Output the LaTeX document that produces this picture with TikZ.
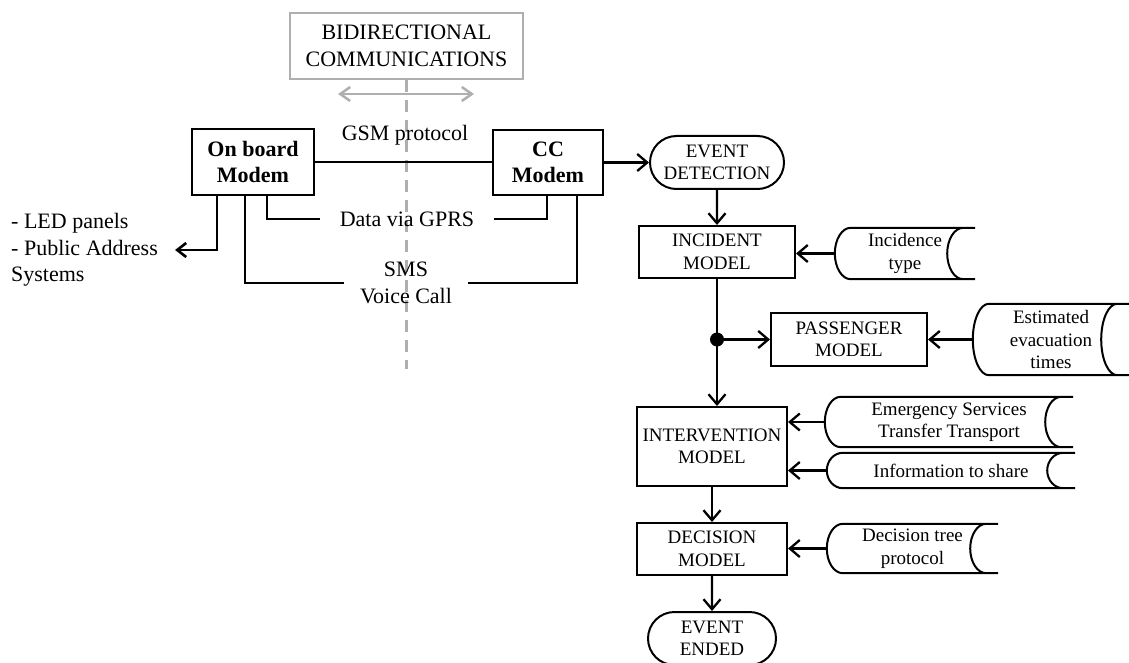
\documentclass[tikz,border=0pt]{standalone}
\usepackage{fontspec}
\setmainfont{Liberation Serif}
\usetikzlibrary{arrows.meta,shapes.misc,calc}
\definecolor{lightgr}{RGB}{175,175,175}
\begin{document}
\begin{tikzpicture}[x=1pt,y=1pt,
  big/.style={font=\fontsize{22}{26.5}\selectfont, align=center},
  small/.style={font=\fontsize{19}{22.5}\selectfont, align=center},
  box/.style={small, draw, line width=2pt, inner sep=0pt},
  modem/.style={align=center, font=\fontsize{22}{26.5}\selectfont\bfseries, draw, line width=2pt, inner sep=0pt},
  term/.style={small, draw, rounded rectangle, line width=2pt, inner sep=0pt},
  store/.style={small, inner sep=0pt},
  link/.style={line width=2.6pt},
  arr/.style={line width=2.3pt, -{Straight Barb[length=10pt,width=17pt]}}
]
\useasboundingbox (0,0) rectangle (1129,-663);

\node[big, draw=lightgr, line width=2pt, minimum width=233pt, minimum height=66pt] (bidir) at (406.5,-46) {BIDIRECTIONAL\\COMMUNICATIONS};
\coordinate (bl) at (338,-94);
\coordinate (br) at (474,-94);
\draw[lightgr, line width=2.5pt, {Straight Barb[length=10pt,width=14pt]}-{Straight Barb[length=10pt,width=14pt]}] (bl) -- (br);
\coordinate (dashend) at (406.5,-369);
\draw[lightgr, dash pattern=on 12pt off 8pt, line width=2.2pt] (bidir.south) -- (dashend);

\node[modem, minimum width=122pt, minimum height=66pt] (onboard) at (253,-162) {On board\\Modem};
\node[modem, minimum width=110pt, minimum height=65pt] (cc) at (548,-162.5) {CC\\Modem};
\node[big] (gsm) at (405,-135) {GSM protocol};
\node[big, inner xsep=20pt] (gprs) at (407,-219) {Data via GPRS};
\node[big, inner xsep=16pt] (sms) at (406,-283) {SMS\\Voice Call};
\node[big, align=left, anchor=west, inner sep=0pt] (leds) at (11,-250) {- LED panels\\- Public Address\\Systems};

\draw[link] (onboard.east) -- (onboard.east -| cc.west);
\draw[link] ([xshift=14pt]onboard.south) |- (gprs.west);
\draw[link] (gprs.east) -| ([xshift=-1pt]cc.south);
\draw[link] ([xshift=-8pt]onboard.south) |- (sms.west);
\draw[link] (sms.east) -| ([xshift=29pt]cc.south);
\draw[link, -{Straight Barb[length=9pt,width=14pt]}] ([xshift=-36pt]onboard.south) |- ([xshift=17pt]leds.east);

\node[term, minimum width=134pt, minimum height=53pt] (det) at (717,-162.5) {EVENT\\DETECTION};
\draw[arr] (cc) -- (det);
\node[box, minimum width=156pt, minimum height=52pt] (inc) at (717,-252) {INCIDENT\\MODEL};
\draw[arr] (det) -- (inc);
\node[store, minimum width=140pt, minimum height=51pt] (inctype) at (905,-253.5) {Incidence\\type};
\draw[arr] (inctype.west) -- (inctype.west -| inc.east);
\node[box, minimum width=156pt, minimum height=53pt] (pass) at (849,-339.5) {PASSENGER\\MODEL};
\coordinate (dot) at (inc.south |- pass.west);
\fill (dot) circle (7pt);
\draw[arr] (dot) -- (pass.west);
\node[store, minimum width=156pt, minimum height=71pt] (est) at (1051,-339.5) {Estimated\\evacuation\\times};
\draw[arr] (est.west) -- (pass.east);

\node[box, minimum width=150pt, minimum height=79pt] (intv) at (712,-446.5) {INTERVENTION\\MODEL};
\draw[arr] (inc.south) -- (inc.south |- intv.north);
\node[store, minimum width=248pt, minimum height=50pt] (emg) at (949,-422) {Emergency Services\\Transfer Transport};
\node[store, minimum width=248pt, minimum height=35pt] (info) at (951,-470.5) {Information to share};
\draw[arr] (emg.west) -- (emg.west -| intv.east);
\draw[arr] (info.west) -- (info.west -| intv.east);
\node[box, minimum width=150pt, minimum height=52pt] (dec) at (712,-549) {DECISION\\MODEL};
\draw[arr] (intv) -- (dec);
\node[store, minimum width=171pt, minimum height=49pt] (dtree) at (912.5,-548.5) {Decision tree\\protocol};
\draw[arr] (dtree.west) -- (dtree.west -| dec.east);
\node[term, minimum width=128pt, minimum height=53pt] (ended) at (712,-638.5) {EVENT\\ENDED};
\draw[arr] (dec) -- (ended);

\foreach \s in {inctype,est,emg,info,dtree}
  \draw[line width=2pt] let \p1=(\s.north west), \p2=(\s.south east), \n1={(\y1-\y2)/2} in
    (\x2,\y1) -- (\x1+16pt,\y1) arc[start angle=90, end angle=270, x radius=16pt, y radius=\n1]
    -- (\x2,\y2) (\x2-12pt,\y2) arc[start angle=270, end angle=90, x radius=16pt, y radius=\n1];
\end{tikzpicture}
\end{document}
